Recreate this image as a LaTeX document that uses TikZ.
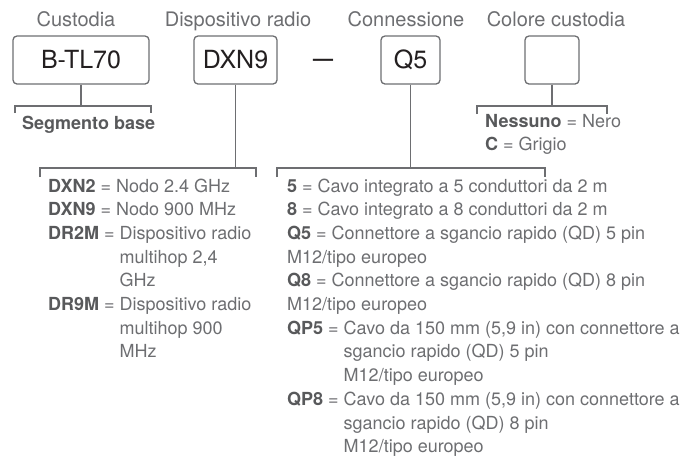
\documentclass[tikz,border=0pt]{standalone}
\usepackage{fontspec}
\setmainfont{TeX Gyre Heros}
\usepackage{tikz}
\definecolor{inkgray}{HTML}{6D6E71}
\definecolor{codegray}{HTML}{58595B}
\definecolor{boxink}{HTML}{231F20}
\newcommand{\cd}[1]{\textcolor{codegray}{\textbf{#1}}}
\tikzset{
  wire/.style={draw=inkgray, line width=1.3pt},
  partbox/.style={draw=inkgray, line width=1.3pt, rounded corners=4pt,
    minimum height=48pt, inner sep=0pt, text=boxink,
    font=\fontsize{25}{30}\selectfont},
  fieldname/.style={anchor=base, inner sep=0pt, text=inkgray,
    font=\fontsize{20}{24}\selectfont},
  legend/.style={anchor=base west, inner sep=0pt, text=inkgray,
    font=\fontsize{18}{23.7}\selectfont},
}

\begin{document}
\begin{tikzpicture}[x=1pt,y=-1pt]
      \useasboundingbox (0,0) rectangle (689,459);

      % field names
      \node[fieldname] (tCust) at (76,26)  {Custodia};
      \node[fieldname] (tDev)  at (238,26) {Dispositivo radio};
      \node[fieldname] (tConn) at (406,26) {Connessione};
      \node[fieldname] (tCol)  at (556,26) {Colore custodia};

      % model boxes
      \node[partbox, minimum width=136pt] (bBase) at (81,60)    {B-TL70};
      \node[partbox, minimum width=83pt]  (bDev)  at (235.5,60) {DXN9};
      \node[text=boxink, inner sep=0pt,
            font=\fontsize{20}{24}\selectfont\bfseries] (dash) at (323,62) {—};
      \node[partbox, minimum width=59pt]  (bConn) at (410.5,60) {Q5};
      \node[partbox, minimum width=54pt]  (bCol)  at (552,60)   {};

      % brackets
      \coordinate (kBase)  at (81,106);
      \coordinate (kBaseL) at (15,106);
      \coordinate (kBaseR) at (151,106);
      \draw[wire] (bBase.south) -- (kBase);
      \draw[wire] ([yshift=-7pt]kBaseL) -- (kBaseL) -- (kBaseR) -- ([yshift=-7pt]kBaseR);

      \coordinate (kDev)  at (235.5,168);
      \coordinate (kDevL) at (40,168);
      \coordinate (kDevR) at (256,168);
      \draw[wire] (bDev.south) -- (kDev);
      \draw[wire] ([yshift=-9pt]kDevL) -- (kDevL) -- (kDevR) -- ([yshift=-9pt]kDevR);

      \coordinate (kConn)  at (410.5,168);
      \coordinate (kConnL) at (277,168);
      \coordinate (kConnR) at (545,168);
      \draw[wire] (bConn.south) -- (kConn);
      \draw[wire] ([yshift=-9pt]kConnL) -- (kConnL) -- (kConnR) -- ([yshift=-9pt]kConnR);

      \coordinate (kCol)  at (552,106);
      \coordinate (kColL) at (477,106);
      \coordinate (kColR) at (607,106);
      \draw[wire] (bCol.south) -- (kCol);
      \draw[wire] ([yshift=-8pt]kColL) -- (kColL) -- (kColR) -- ([yshift=-8pt]kColR);

      % legends
      \node[legend] (lBase) at (22,129) {\cd{Segmento base}};

      \node[legend] (lNone) at (485,127) {\cd{Nessuno} = Nero};
      \node[legend] (lGray) at (485,150) {\cd{C} = Grigio};

      \node[legend] (lDXN2) at (48,192)   {\cd{DXN2} = Nodo 2.4 GHz};
      \node[legend] (lDXN9) at (48,215.7) {\cd{DXN9} = Nodo 900 MHz};
      \node[legend] (lDR2M) at (48,239.4) {\begin{tabular}[t]{@{}l@{\ }l@{}}
          \cd{DR2M} = & Dispositivo radio\\ & multihop 2,4\\ & GHz\end{tabular}};
      \node[legend] (lDR9M) at (48,310.5) {\begin{tabular}[t]{@{}l@{\ }l@{}}
          \cd{DR9M} = & Dispositivo radio\\ & multihop 900\\ & MHz\end{tabular}};

      \node[legend] (l5)   at (287,192)   {\cd{5} = Cavo integrato a 5 conduttori da 2 m};
      \node[legend] (l8)   at (287,215.7) {\cd{8} = Cavo integrato a 8 conduttori da 2 m};
      \node[legend] (lQ5)  at (287,239.4) {\begin{tabular}[t]{@{}l@{}}
          \cd{Q5} = Connettore a sgancio rapido (QD) 5 pin\\ M12/tipo europeo\end{tabular}};
      \node[legend] (lQ8)  at (287,286.8) {\begin{tabular}[t]{@{}l@{}}
          \cd{Q8} = Connettore a sgancio rapido (QD) 8 pin\\ M12/tipo europeo\end{tabular}};
      \node[legend] (lQP5) at (287,334.2) {\begin{tabular}[t]{@{}l@{\ }l@{}}
          \cd{QP5} = & Cavo da 150 mm (5,9 in) con connettore a\\
          & sgancio rapido (QD) 5 pin\\ & M12/tipo europeo\end{tabular}};
      \node[legend] (lQP8) at (287,405.3) {\begin{tabular}[t]{@{}l@{\ }l@{}}
          \cd{QP8} = & Cavo da 150 mm (5,9 in) con connettore a\\
          & sgancio rapido (QD) 8 pin\\ & M12/tipo europeo\end{tabular}};
\end{tikzpicture}
\end{document}
